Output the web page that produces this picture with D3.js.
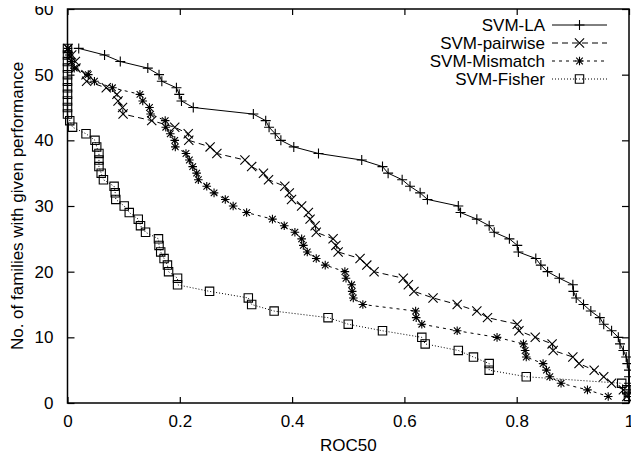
<!DOCTYPE html>
<html>
<head>
<meta charset="utf-8">
<script src="https://cdn.jsdelivr.net/npm/d3@7"></script>
<style>
html,body{margin:0;padding:0;background:#fff;}
svg{display:block;}
text{font-family:"Liberation Sans",Arial,Helvetica,sans-serif;font-size:17px;fill:#000;}
</style>
</head>
<body>
<svg id="chart" width="631" height="454"></svg>
<script>
// ---- data: x = ROC50, y = number of families with ROC50 >= x ----
const laX = [0.020,0.066,0.094,0.143,0.163,0.168,0.194,0.199,0.203,0.224,0.331,0.353,0.359,0.370,0.380,0.403,0.447,0.524,0.561,0.571,0.596,0.610,0.628,0.641,0.696,0.700,0.729,0.751,0.760,0.787,0.801,0.803,0.834,0.843,0.855,0.876,0.900,0.901,0.906,0.919,0.932,0.948,0.955,0.969,0.981,0.984,0.990,0.995,0.997,1.0,1.0,1.0,1.0,1.0];
const laY = [54,53,52,51,50,49,48,47,46,45,44,43,42,41,40,39,38,37,36,35,34,33,32,31,30,29,28,27,26,25,24,23,22,21,20,19,18,17,16,15,14,13,12,11,10,9,8,7,6,5,4,3,2,1];

const pairX = [0.001,0.0075,0.014,0.015,0.033,0.034,0.069,0.088,0.090,0.098,0.099,0.150,0.191,0.215,0.216,0.254,0.266,0.316,0.328,0.349,0.358,0.387,0.395,0.399,0.417,0.429,0.432,0.441,0.443,0.473,0.478,0.482,0.521,0.533,0.546,0.598,0.607,0.617,0.651,0.694,0.729,0.748,0.801,0.804,0.833,0.863,0.865,0.900,0.911,0.938,0.955,0.969,0.990,0.996];
const pairY = [54,53,52,51,50,49,48,47,46,45,44,43,42,41,40,39,38,37,36,35,34,33,32,31,30,29,28,27,26,25,24,23,22,21,20,19,18,17,16,15,14,13,12,11,10,9,8,7,6,5,4,3,2,1];

const misX = [0.001,0.003,0.007,0.012,0.037,0.048,0.080,0.129,0.134,0.146,0.148,0.174,0.175,0.183,0.191,0.192,0.211,0.217,0.223,0.230,0.233,0.248,0.261,0.281,0.295,0.319,0.365,0.386,0.405,0.417,0.420,0.427,0.443,0.459,0.494,0.496,0.506,0.507,0.509,0.526,0.620,0.621,0.631,0.694,0.765,0.812,0.815,0.817,0.847,0.853,0.859,0.879,0.926,0.963];
const misY = [54,53,52,51,50,49,48,47,46,45,44,43,42,41,40,39,38,37,36,35,34,33,32,31,30,29,28,27,26,25,24,23,22,21,20,19,18,17,16,15,14,13,12,11,10,9,8,7,6,5,4,3,2,1];

const fishX = [0.0,0.0,0.0,0.0,0.0,0.0,0.0,0.0,0.0,0.0,0.0,0.004,0.009,0.033,0.049,0.052,0.056,0.056,0.056,0.060,0.064,0.083,0.085,0.086,0.101,0.110,0.126,0.130,0.139,0.162,0.163,0.166,0.172,0.178,0.180,0.196,0.196,0.253,0.322,0.328,0.368,0.464,0.500,0.561,0.631,0.637,0.696,0.723,0.751,0.751,0.817,0.987,0.996,0.999];
const fishY = [54,53,52,51,50,49,48,47,46,45,44,43,42,41,40,39,38,37,36,35,34,33,32,31,30,29,28,27,26,25,24,23,22,21,20,19,18,17,16,15,14,13,12,11,10,9,8,7,6,5,4,3,2,1];

const seriesNames = ["SVM-LA","SVM-pairwise","SVM-Mismatch","SVM-Fisher"];
const xTicks = [0,0.2,0.4,0.6,0.8,1];
const xTickLabels = ["0","0.2","0.4","0.6","0.8","1"];
const yTicks = [0,10,20,30,40,50,60];
const xTitle = "ROC50";
const yTitle = "No. of families with given performance";

// ---- layout ----
const svg = d3.select("#chart");
const L = 67.5, R = 629, T = 9, B = 403;
const x = d3.scaleLinear().domain([0,1]).range([L,R]);
const y = d3.scaleLinear().domain([0,60]).range([B,T]);

const series = [
  {name:seriesNames[0], xs:laX,   ys:laY,   dash:null,  marker:"plus"},
  {name:seriesNames[1], xs:pairX, ys:pairY, dash:"6,4", marker:"cross"},
  {name:seriesNames[2], xs:misX,  ys:misY,  dash:"3,4", marker:"star"},
  {name:seriesNames[3], xs:fishX, ys:fishY, dash:"1,2", marker:"square"}
];

function markerPath(type){
  const p = d3.path();
  if(type==="plus"){ const s=5; p.moveTo(-s,0);p.lineTo(s,0);p.moveTo(0,-s);p.lineTo(0,s); }
  else if(type==="cross"){ const s=4.6; p.moveTo(-s,-s);p.lineTo(s,s);p.moveTo(-s,s);p.lineTo(s,-s); }
  else if(type==="star"){ const s=4.3,d=3.3; p.moveTo(-s,0);p.lineTo(s,0);p.moveTo(0,-s);p.lineTo(0,s);
                          p.moveTo(-d,-d);p.lineTo(d,d);p.moveTo(-d,d);p.lineTo(d,-d); }
  else { const s=4.2; p.rect(-s,-s,2*s,2*s); }
  return p.toString();
}

// axes (gnuplot style: ticks inward, mirrored)
const axB = d3.axisBottom(x).tickValues(xTicks).tickFormat((d,i)=>xTickLabels[i]).tickSizeInner(-6).tickSizeOuter(0).tickPadding(12);
const axT = d3.axisTop(x).tickValues(xTicks).tickFormat("").tickSizeInner(-6).tickSizeOuter(0);
const axL = d3.axisLeft(y).tickValues(yTicks).tickSizeInner(-7).tickSizeOuter(0).tickPadding(14);
const axR = d3.axisRight(y).tickValues(yTicks).tickFormat("").tickSizeInner(-7).tickSizeOuter(0);

function styleAxis(g){
  g.select(".domain").remove();
  g.selectAll(".tick line").attr("stroke","#000").attr("stroke-width",1.2);
  g.selectAll(".tick text").attr("font-family","Liberation Sans, Arial, sans-serif").attr("font-size",17).attr("fill","#000");
}
svg.append("g").attr("transform",`translate(0,${B})`).call(axB).call(styleAxis);
svg.append("g").attr("transform",`translate(0,${T})`).call(axT).call(styleAxis);
svg.append("g").attr("transform",`translate(${L},0)`).call(axL).call(styleAxis);
svg.append("g").attr("transform",`translate(${R},0)`).call(axR).call(styleAxis);

// the reference's top tick label is partly hidden at the top edge
svg.append("rect").attr("x",25).attr("y",0).attr("width",38).attr("height",6).attr("fill","#fff");

// data
const plot = svg.append("g");
series.forEach(s=>{
  const pts = s.xs.map((v,i)=>[x(v),y(s.ys[i])]);
  plot.append("path").attr("d",d3.line()(pts)).attr("fill","none").attr("stroke","#000")
    .attr("stroke-width",1).attr("stroke-dasharray",s.dash);
  plot.selectAll(null).data(pts).enter().append("path")
    .attr("transform",d=>`translate(${d[0]},${d[1]})`)
    .attr("d",markerPath(s.marker)).attr("fill","none").attr("stroke","#000").attr("stroke-width",1.1);
});

// border
svg.append("rect").attr("x",L).attr("y",T).attr("width",R-L).attr("height",B-T)
  .attr("fill","none").attr("stroke","#000").attr("stroke-width",1.5);

// legend
const lg = svg.append("g");
series.forEach((s,i)=>{
  const cy = 25 + i*18;
  lg.append("text").attr("x",545).attr("y",cy).attr("dy","0.35em").attr("text-anchor","end").text(s.name);
  lg.append("line").attr("x1",552).attr("x2",607).attr("y1",cy).attr("y2",cy)
    .attr("stroke","#000").attr("stroke-width",1).attr("stroke-dasharray",s.dash);
  lg.append("path").attr("transform",`translate(579.5,${cy})`).attr("d",markerPath(s.marker))
    .attr("fill","none").attr("stroke","#000").attr("stroke-width",1.1);
});

// titles
svg.append("text").attr("x",(L+R)/2).attr("y",451).attr("text-anchor","middle").text(xTitle);
svg.append("text").attr("transform",`translate(23,${(T+B)/2}) rotate(-90)`).attr("text-anchor","middle").text(yTitle);
</script>
</body>
</html>
